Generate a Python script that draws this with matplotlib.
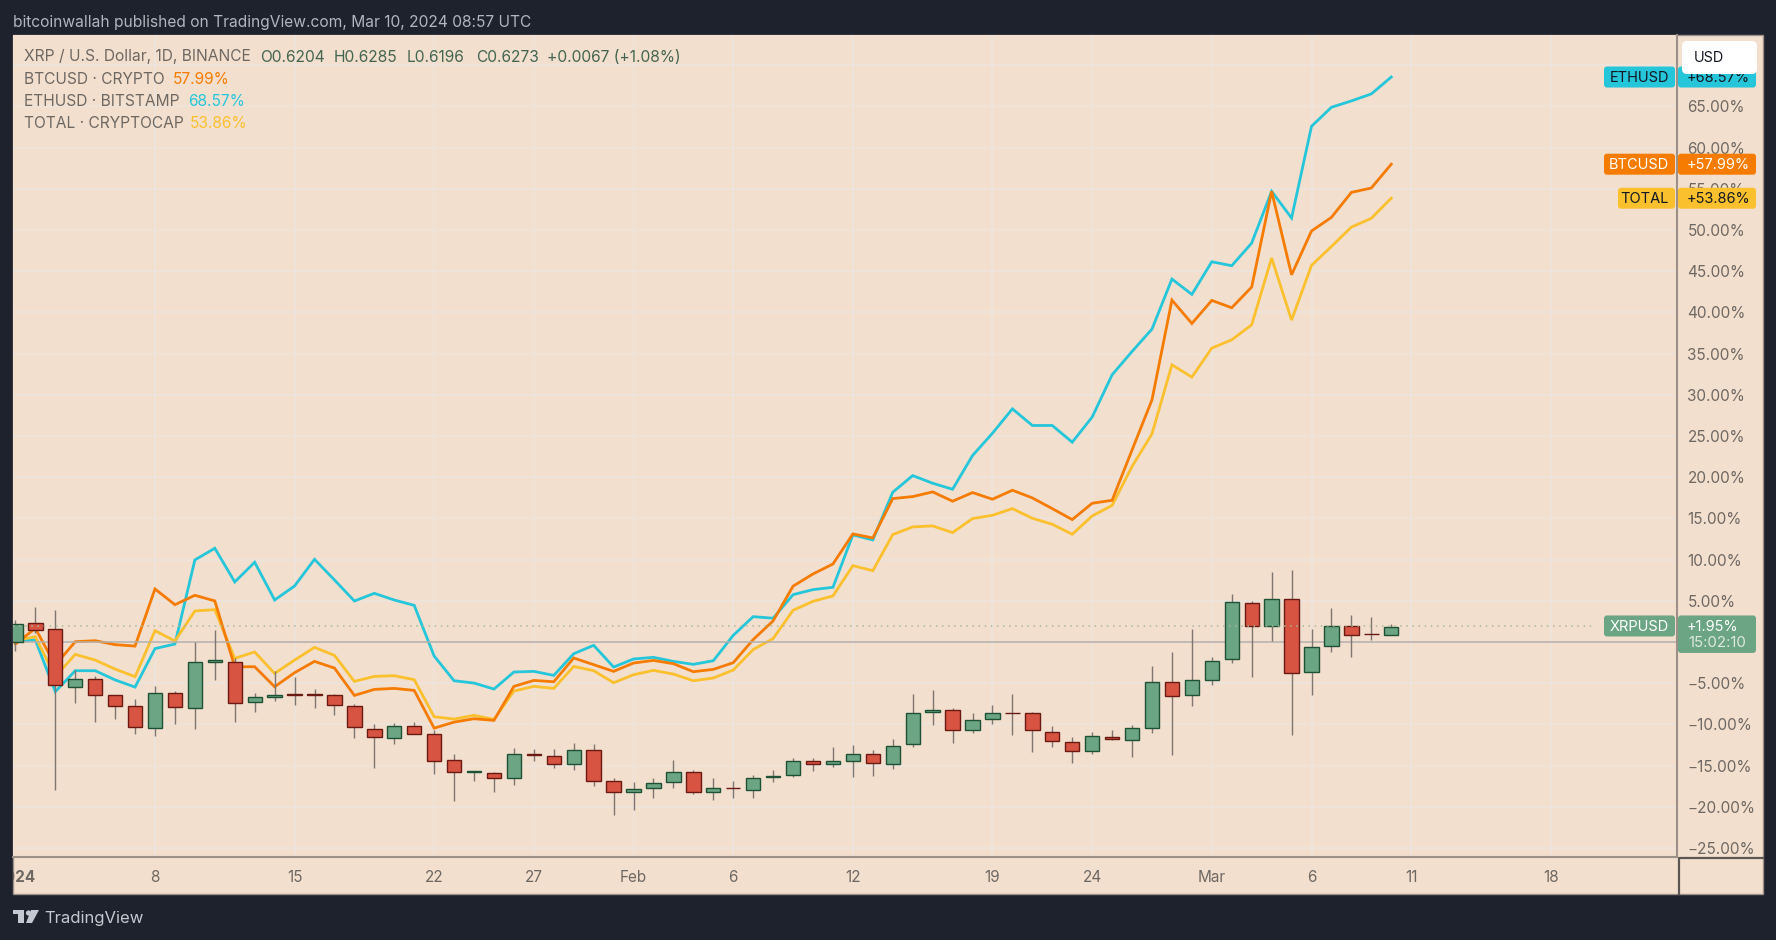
import numpy as np
import matplotlib
matplotlib.use("Agg")
import matplotlib.pyplot as plt
from matplotlib.patches import Rectangle, FancyBboxPatch, Polygon, Circle
from matplotlib.transforms import Bbox

plt.rcParams['font.family'] = ['Inter', 'DejaVu Sans']

# daily candles of XRP, in percent against the first visible close
opens = [0.0, 2.31, 1.62, -5.47, -4.45, -6.44, -7.73, -10.45, -6.15, -7.98,
         -2.47, -2.39, -7.33, -6.68, -6.36, -6.36, -6.44, -7.81, -10.53, -11.62,
         -10.2, -11.21, -14.37, -15.75, -15.95, -16.48, -13.56, -13.81, -14.86, -13.12,
         -16.92, -18.18, -17.69, -17.04, -15.79, -18.26, -17.69, -17.98, -16.34, -16.19,
         -14.49, -14.78, -14.45, -13.64, -14.78, -12.43, -8.5, -8.3, -10.65, -9.35,
         -8.62, -8.66, -10.89, -12.15, -13.2, -11.58, -11.86, -10.4, -4.82, -6.48,
         -4.57, -2.11, 4.74, 1.98, 5.18, -3.68, -0.45, 1.98, 1.01, 0.81]
highs = [2.63, 4.21, 3.93, -3.44, -4.17, -6.44, -6.88, -5.38, -5.99, -0.04,
         1.42, -1.9, -6.15, -3.56, -4.25, -5.67, -6.28, -7.57, -10.0, -9.84,
         -9.76, -10.73, -13.6, -15.7, -15.75, -12.87, -13.0, -12.96, -12.23, -12.43,
         -16.48, -17.04, -16.48, -14.37, -15.59, -16.48, -16.88, -16.15, -15.59, -14.09,
         -14.09, -12.79, -12.55, -13.16, -11.82, -6.28, -5.79, -8.06, -8.66, -7.69,
         -6.28, -8.5, -10.24, -11.58, -10.89, -10.73, -10.08, -2.91, -1.17, 1.62,
         -1.86, 5.83, 4.98, 8.46, 8.79, 1.54, 4.09, 3.24, 3.0, 2.19]
lows = [-1.13, 1.09, -17.9, -7.37, -9.76, -9.35, -11.17, -11.42, -9.96, -10.57,
        -4.66, -9.72, -8.5, -7.2, -7.61, -8.02, -8.83, -11.66, -15.26, -12.39,
        -11.21, -16.03, -19.27, -16.88, -18.18, -17.37, -14.41, -15.26, -15.51, -17.53,
        -20.97, -20.4, -18.95, -17.77, -18.5, -19.19, -18.95, -18.87, -17.04, -16.36,
        -15.63, -15.14, -16.4, -16.23, -15.38, -12.71, -10.12, -12.23, -11.01, -9.92,
        -11.26, -13.32, -12.75, -14.66, -13.6, -11.86, -14.01, -11.01, -13.68, -7.81,
        -5.18, -2.51, -4.21, 0.08, -11.3, -6.4, -1.21, -1.82, 0.28, 0.81]
closes = [2.23, 1.5, -5.26, -4.53, -6.4, -7.77, -10.36, -6.15, -7.89, -2.39,
          -2.23, -7.41, -6.68, -6.44, -6.4, -6.4, -7.65, -10.32, -11.54, -10.2,
          -11.21, -14.41, -15.83, -15.71, -16.56, -13.56, -13.77, -14.78, -13.08, -16.92,
          -18.26, -17.89, -17.09, -15.83, -18.26, -17.77, -17.73, -16.52, -16.3, -14.49,
          -14.78, -14.49, -13.56, -14.7, -12.63, -8.66, -8.22, -10.65, -9.51, -8.66,
          -8.66, -10.65, -12.06, -13.2, -11.46, -11.74, -10.49, -4.82, -6.56, -4.57,
          -2.27, 4.82, 1.98, 5.26, -3.81, -0.61, 1.98, 0.89, 0.97, 1.86]

btc = [-0.24, 1.66, -2.8, 0.04, 0.16, -0.32, -0.49, 6.44, 4.53, 5.67,
       4.99, -3.0, -3.0, -5.43, -3.72, -2.35, -3.16, -6.48, -5.75, -5.63,
       -5.87, -10.45, -9.72, -9.31, -9.51, -5.38, -4.66, -4.82, -1.94, -2.75,
       -3.56, -2.55, -2.23, -2.63, -3.6, -3.32, -2.51, 0.3, 2.57, 6.78,
       8.26, 9.47, 13.12, 12.63, 17.41, 17.65, 18.22, 17.09, 18.14, 17.33,
       18.42, 17.49, 16.19, 14.86, 16.84, 17.2, 23.3, 29.39, 41.5, 38.66,
       41.46, 40.57, 43.08, 54.7, 44.57, 49.88, 51.54, 54.57, 55.1, 57.99]
eth = [0.1, 0.24, -6.03, -3.48, -3.48, -4.6, -5.47, -0.8, -0.24, 9.96,
       11.38, 7.29, 9.68, 5.1, 6.8, 10.04, 7.53, 4.98, 5.91, 5.1,
       4.45, -1.7, -4.7, -4.98, -5.71, -3.64, -3.56, -4.05, -1.42, -0.4,
       -3.04, -2.06, -1.86, -2.35, -2.71, -2.27, 0.81, 3.08, 2.89, 5.75,
       6.36, 6.64, 13.0, 12.39, 18.18, 20.2, 19.27, 18.54, 22.63, 25.34,
       28.3, 26.28, 26.28, 24.25, 27.3, 32.43, 35.26, 37.98, 44.05, 42.19,
       46.15, 45.67, 48.42, 54.7, 51.46, 62.59, 64.9, 65.67, 66.52, 68.57]
total = [0.16, 0.65, -4.2, -1.5, -2.19, -3.28, -4.21, 1.38, 0.12, 3.77,
         3.93, -1.98, -1.21, -3.81, -2.19, -0.65, -1.62, -4.78, -4.17, -4.09,
         -4.57, -9.07, -9.35, -8.9, -9.39, -5.95, -5.38, -5.63, -2.96, -3.48,
         -4.94, -3.97, -3.44, -3.89, -4.7, -4.37, -3.4, -0.91, 0.42, 3.85,
         4.94, 5.59, 9.27, 8.66, 13.04, 13.97, 14.09, 13.28, 14.98, 15.38,
         16.19, 15.02, 14.29, 13.08, 15.3, 16.58, 21.3, 25.26, 33.64, 32.15,
         35.67, 36.68, 38.5, 46.6, 39.07, 45.71, 48.0, 50.36, 51.42, 53.86]

xrp_last = 1.95
tick_days = [1, 8, 15, 22, 27, 32, 37, 43, 50, 55, 61, 66, 71, 78]
tick_labels = ['2024', '8', '15', '22', '27', 'Feb', '6', '12', '19', '24', 'Mar', '6', '11', '18']
pct_ticks = np.arange(-25, 75, 5)
# these two sit under the XRP tag and the USD button in the reference
hidden_ticks = [0, 70]

DARK = '#1e222d'
PEACH = '#f2dfce'
GRID = '#ece5df'
AXIS = '#9c9088'
TEXT = '#6e6863'
GREEN = '#6ba583'
RED = '#d75442'
ORANGE = '#f57c00'
CYAN = '#26c6da'
YELLOW = '#fbc02d'

W, H = 1776, 940
fig = plt.figure(figsize=(W / 100, H / 100), dpi=100, facecolor=DARK)


def pixel_axes(zorder):
    a = fig.add_axes([0, 0, 1, 1], zorder=zorder)
    a.set_xlim(0, W)
    a.set_ylim(H, 0)
    a.axis('off')
    a.patch.set_alpha(0)
    return a


back = pixel_axes(-1)
back.add_patch(Rectangle((13, 35), 1750, 859, fc=PEACH, ec=AXIS, lw=1))

# main chart, the y range is set so 0% sits at the base line
ax = fig.add_axes([13 / W, 1 - 857 / H, (1677 - 13) / W, (857 - 35) / H], zorder=1)
ax.set_facecolor(PEACH)
ax.set_xlim(0.879, 84.33)
ax.set_ylim(-26.09, 73.67)
for s in ['top', 'left']:
    ax.spines[s].set_visible(False)
for s in ['right', 'bottom']:
    ax.spines[s].set_color(AXIS)
    ax.spines[s].set_linewidth(1.5)
ax.yaxis.tick_right()
ax.set_yticks(pct_ticks)
ax.set_yticklabels(['' if v in hidden_ticks else f"{v:.2f}%".replace('-', '\u2212') for v in pct_ticks])
ax.set_xticks(tick_days)
ax.set_xticklabels(tick_labels)
ax.tick_params(axis='y', length=0, pad=7.5, labelsize=11, labelcolor=TEXT)
ax.tick_params(axis='x', length=0, pad=9, labelsize=11, labelcolor=TEXT)
ax.set_axisbelow(True)
ax.grid(True, color=GRID, lw=1.1)
ax.xaxis.get_gridlines()[0].set_visible(False)

first = ax.get_xticklabels()[0]
first.set_fontweight('bold')
first.set_clip_box(Bbox([[13, 0], [W, H]]))
first.set_clip_on(True)

days = np.arange(1, len(closes) + 1)
ax.plot(days, eth, color=CYAN, lw=2.0, zorder=2, solid_joinstyle='miter')
ax.plot(days, total, color=YELLOW, lw=2.0, zorder=2.1, solid_joinstyle='miter')
ax.plot(days, btc, color=ORANGE, lw=2.0, zorder=2.2, solid_joinstyle='miter')
ax.axhline(0, color='#b6afaa', lw=1.1, zorder=2.5)

o = np.array(opens)
c = np.array(closes)
up = c >= o
ax.vlines(days, lows, highs, color='#7d7671', lw=1.0, zorder=3)
ax.bar(days[up], (c - o)[up], bottom=o[up], width=0.72, color=GREEN, edgecolor='#1f5136', lw=1.0, zorder=4)
ax.bar(days[~up], (c - o)[~up], bottom=o[~up], width=0.72, color=RED, edgecolor='#6b1a12', lw=1.0, zorder=4)
ax.plot([0.879, 80.2], [xrp_last, xrp_last], color='#a9b89c', lw=1.1, ls=(0, (1, 3)), zorder=5)

over = pixel_axes(5)
fig.canvas.draw()


def y_px(v):
    return H - ax.transData.transform((0, v))[1]


def box(x0, x1, y0, y1, color, r=3, zorder=1):
    over.add_patch(FancyBboxPatch((x0, y0), x1 - x0, y1 - y0, fc=color, ec='none', zorder=zorder,
                                  boxstyle=f"round,pad=0,rounding_size={r}"))


def tag(name, value, x0, color, tcolor):
    yc = y_px(value)
    box(x0, 1675, yc - 10.5, yc + 10.5, color)
    box(1678, 1756, yc - 10.5, yc + 10.5, color)
    over.text(1669, yc + 1, name, color=tcolor, fontsize=10.5, ha='right', va='center')
    over.text(1750, yc + 1, f"+{value:.2f}%", color=tcolor, fontsize=10.5, ha='right', va='center')


tag('ETHUSD', eth[-1], 1604, CYAN, '#131722')
tag('BTCUSD', btc[-1], 1604, ORANGE, 'white')
tag('TOTAL', total[-1], 1618, YELLOW, '#131722')

# the XRP tag is taller, it holds the bar countdown too
yc = y_px(xrp_last)
box(1604, 1675, yc - 10.5, yc + 10.5, GREEN)
box(1678, 1756, yc - 10.5, yc + 27, GREEN)
over.text(1669, yc + 1, 'XRPUSD', color='white', fontsize=10.5, ha='right', va='center')
over.text(1687, yc + 1, f"+{xrp_last:.2f}%", color='white', fontsize=10.5, ha='left', va='center')
over.text(1688, yc + 17, '15:02:10', color='#dfe8df', fontsize=10.8, ha='left', va='center')

box(1682, 1757, 41, 74, 'white', r=5, zorder=6)
over.text(1694, 57.5, 'USD', color='#131722', fontsize=10.4, va='center', zorder=7)

# corner box under the price scale
over.plot([1679, 1679, 1763], [894, 858, 858], color='#5b5754', lw=1.6)

# header, footer and legend text
over.text(13, 22, 'bitcoinwallah published on TradingView.com, Mar 10, 2024 08:57 UTC',
          color='#b2b5be', fontsize=11.2, va='center')
over.text(24, 57, 'XRP / U.S. Dollar, 1D, BINANCE', color=TEXT, fontsize=11.2, va='center')
for x, s in zip([260, 334, 407, 476, 547],
                ['O0.6204', 'H0.6285', 'L0.6196', 'C0.6273', '+0.0067 (+1.08%)']):
    over.text(x, 57, s, color='#44654f', fontsize=11.2, va='center')
for y, name, x, val, col in [(79, 'BTCUSD \u00b7 CRYPTO', 173, btc[-1], ORANGE),
                             (101, 'ETHUSD \u00b7 BITSTAMP', 188, eth[-1], CYAN),
                             (124, 'TOTAL \u00b7 CRYPTOCAP', 190, total[-1], YELLOW)]:
    over.text(24, y, name, color=TEXT, fontsize=11.2, va='center')
    over.text(x, y, f"{val:.2f}%", color=col, fontsize=11.2, va='center')

# TradingView logo
logo = '#c5c8d0'
over.add_patch(Polygon([(13, 910), (24, 910), (24, 923), (17.5, 923), (17.5, 914), (13, 914)], fc=logo, ec='none'))
over.add_patch(Circle((28.5, 913), 2.6, fc=logo, ec='none'))
over.add_patch(Polygon([(31, 910), (39, 910), (32, 923), (26, 923)], fc=logo, ec='none'))
over.text(44, 918, 'TradingView', color=logo, fontsize=12, va='center')

fig.savefig('out.png', dpi=100, facecolor=DARK)
